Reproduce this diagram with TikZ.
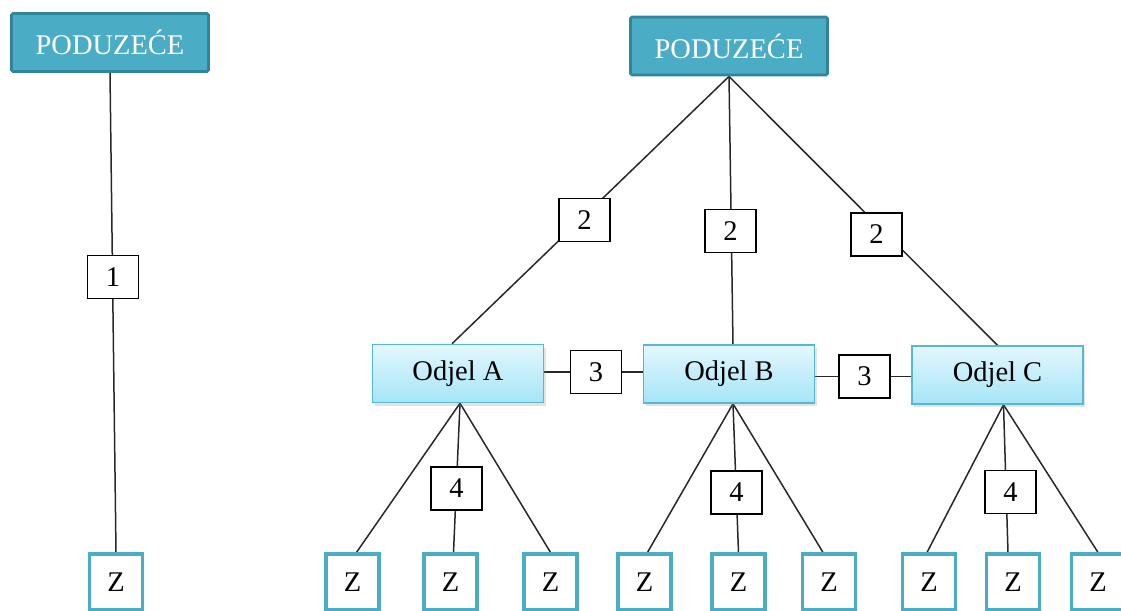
\documentclass[tikz,border=0pt]{standalone}
\usepackage{fontspec}
\setmainfont{Liberation Serif}
\usetikzlibrary{shadows,backgrounds}
\definecolor{teal1}{HTML}{4BACC6}
\definecolor{teal2}{HTML}{31849B}
\definecolor{od1}{HTML}{E3F7FD}
\definecolor{od2}{HTML}{A5E5F7}
\definecolor{odb}{HTML}{55B8D4}
\definecolor{ln}{HTML}{282828}
\begin{document}
\begin{tikzpicture}[x=1pt,y=-1pt,
  font=\fontsize{28.5}{32}\selectfont,
  rootbox/.style={draw=teal2, line width=2.8pt, fill=teal1, text=white, minimum width=197pt, minimum height=58pt, rounded corners=1.5pt, inner sep=0pt},
  dept/.style={draw=odb, line width=1.5pt, top color=od1, bottom color=od2, minimum width=171pt, minimum height=58pt, inner sep=0pt, drop shadow={shadow xshift=2pt, shadow yshift=-3pt, opacity=0.22}},
  lbl/.style={draw=black, line width=1.5pt, fill=white, minimum width=51pt, minimum height=43pt, inner sep=0pt},
  zbox/.style={draw=teal1, line width=3.2pt, fill=white, minimum width=53pt, minimum height=56pt, inner sep=0pt},
  conn/.style={draw=ln, line width=1.5pt}]
\useasboundingbox (0,0) rectangle (1121,610);
\clip (0,0) rectangle (1121,610);

% left part
\node[rootbox] (rootL) at (110,42.5) {PODUZEĆE};
\node[lbl] (l1) at (113,277) {1};
\node[zbox] (zL) at (116,582) {Z};

% right part
\node[rootbox] (rootR) at (729,46) {PODUZEĆE};
\node[dept] (odA) at (458,373.5) {Odjel A};
\node[dept] (odB) at (729,374) {Odjel B};
\node[dept] (odC) at (997.5,375) {Odjel C};

\node[lbl] (l2a) at (584.5,220) {2};
\node[lbl] (l2b) at (730.5,231) {2};
\node[lbl] (l2c) at (876.5,234.5) {2};

\node[lbl] (l3a) at (596,372) {3};
\node[lbl] (l3b) at (864.5,376.5) {3};

\node[lbl] (l4a) at (456.5,488.5) {4};
\node[lbl] (l4b) at (736.5,492.5) {4};
\node[lbl] (l4c) at (1010.5,492) {4};

\node[zbox] (zA1) at (352.5,582) {Z};
\node[zbox] (zA2) at (450.5,582) {Z};
\node[zbox] (zA3) at (550.5,582) {Z};
\node[zbox] (zB1) at (644.5,582) {Z};
\node[zbox] (zB2) at (738.5,582) {Z};
\node[zbox] (zB3) at (829,582) {Z};
\node[zbox] (zC1) at (929,582) {Z};
\node[zbox] (zC2) at (1013,582) {Z};
\node[zbox] (zC3) at (1098,582) {Z};

\begin{scope}[on background layer]
  \draw[conn] (rootL.south) -- (zL.north);
  \draw[conn] (rootR.south) -- ([xshift=-6pt]odA.north);
  \draw[conn] (rootR.south) -- ([xshift=4pt]odB.north);
  \draw[conn] (rootR.south) -- (odC.north);
  \draw[conn] (odA.east |- l3a) -- (l3a) -- (odB.west |- l3a);
  \draw[conn] (odB.east |- l3b) -- (l3b) -- (odC.west |- l3b);
  \draw[conn] ([xshift=2pt]odA.south) -- ([xshift=4pt]zA1.north);
  \draw[conn] ([xshift=2pt]odA.south) -- ([xshift=3pt]zA2.north);
  \draw[conn] ([xshift=2pt]odA.south) -- (zA3.north);
  \draw[conn] ([xshift=4pt]odB.south) -- ([xshift=3pt]zB1.north);
  \draw[conn] ([xshift=4pt]odB.south) -- (zB2.north);
  \draw[conn] ([xshift=4pt]odB.south) -- ([xshift=-6pt]zB3.north);
  \draw[conn] ([xshift=6pt]odC.south) -- ([xshift=-2pt]zC1.north);
  \draw[conn] ([xshift=6pt]odC.south) -- ([xshift=-5pt]zC2.north);
  \draw[conn] ([xshift=6pt]odC.south) -- (zC3.north);
\end{scope}
\end{tikzpicture}
\end{document}
